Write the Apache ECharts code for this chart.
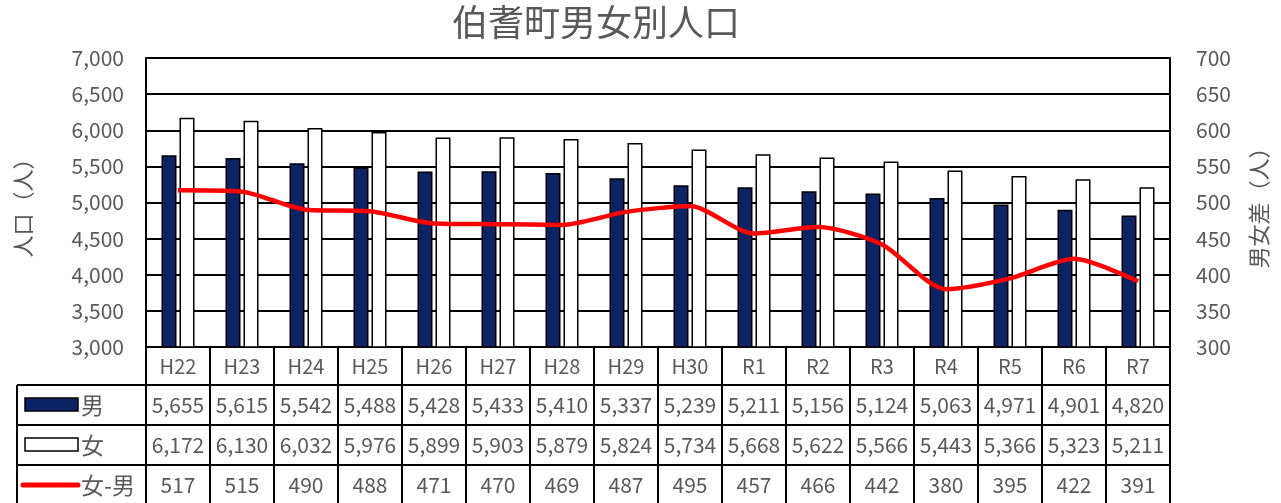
<!DOCTYPE html>
<html><head><meta charset="utf-8">
<script src="https://cdn.jsdelivr.net/npm/echarts@6/dist/echarts.min.js"></script>
<style>html,body{margin:0;padding:0;background:#fff}#c{width:1281px;height:503px}</style>
</head><body><div id="c"></div>
<script>
const categories = ['H22','H23','H24','H25','H26','H27','H28','H29','H30','R1','R2','R3','R4','R5','R6','R7'];
const male = [5655,5615,5542,5488,5428,5433,5410,5337,5239,5211,5156,5124,5063,4971,4901,4820];
const female = [6172,6130,6032,5976,5899,5903,5879,5824,5734,5668,5622,5566,5443,5366,5323,5211];
const diff = [517,515,490,488,471,470,469,487,495,457,466,442,380,395,422,391];
const seriesNames = ['男','女','女-男'];

const FONT = '"Noto Sans CJK JP", "Noto Sans", sans-serif';
const GRAY = '#595959';
const NAVY = '#0c2466';
const chart = echarts.init(document.getElementById('c'));
const fmt = v => v.toLocaleString('en-US');

chart.setOption({
  animation: false,
  title: { text: '伯耆町男女別人口', left: 447, top: -1,
    textStyle: { fontFamily: FONT, fontSize: 36, fontWeight: 'normal', color: GRAY } },
  grid: { left: 146, right: 111, top: 58, bottom: 156 },
  xAxis: { type: 'category', data: categories,
    axisLine: { show: true, lineStyle: { color: '#000', width: 2 } },
    axisTick: { show: false },
    axisLabel: { color: GRAY, fontFamily: FONT, fontSize: 20, margin: 9 } },
  yAxis: [
    { type: 'value', min: 3000, max: 7000, interval: 500, name: '人口（人）',
      nameLocation: 'middle', nameGap: 112, nameRotate: 90,
      nameTextStyle: { color: GRAY, fontFamily: FONT, fontSize: 22 },
      axisLine: { show: true, lineStyle: { color: '#000', width: 2 } },
      axisTick: { show: false },
      axisLabel: { color: GRAY, fontFamily: FONT, fontSize: 21, margin: 22, formatter: v => fmt(v) },
      splitLine: { lineStyle: { color: '#000', width: 2 } } },
    { type: 'value', min: 300, max: 700, interval: 50, name: '男女差（人）',
      nameLocation: 'middle', nameGap: 78, nameRotate: 90,
      nameTextStyle: { color: GRAY, fontFamily: FONT, fontSize: 22 },
      axisLine: { show: true, lineStyle: { color: '#000', width: 2 } },
      axisTick: { show: false },
      axisLabel: { color: GRAY, fontFamily: FONT, fontSize: 21, margin: 26 },
      splitLine: { show: false } }
  ],
  series: [
    { name: seriesNames[0], type: 'bar', data: male, barWidth: 15, barGap: '20%',
      itemStyle: { color: NAVY, borderColor: '#000', borderWidth: 1.5 } },
    { name: seriesNames[1], type: 'bar', data: female, barWidth: 15,
      itemStyle: { color: '#fff', borderColor: '#000', borderWidth: 1.5 } },
    { name: seriesNames[2], type: 'line', yAxisIndex: 1, data: diff, smooth: 0.25,
      symbol: 'none', lineStyle: { color: '#ff0000', width: 4.5 } }
  ]
});

// Data table built from the axis scale
const centers = categories.map((c, i) => chart.convertToPixel({ xAxisIndex: 0 }, i));
const band = centers[1] - centers[0];
const x0 = centers[0] - band / 2;
const x1 = centers[centers.length - 1] + band / 2;
const yTop = chart.convertToPixel({ yAxisIndex: 0 }, 3000);
const rowH = 40;
const rowsY = [yTop + 38, yTop + 78, yTop + 118, yTop + 158];
const tableLeft = 17;
const els = [];
const line = (xa, ya, xb, yb) => els.push({ type: 'line', shape: { x1: xa, y1: ya, x2: xb, y2: yb },
  style: { stroke: '#000', lineWidth: 2 }, silent: true });
for (let k = 0; k <= categories.length; k++) {
  const x = x0 + band * k;
  line(x, yTop, x, 520);
}
line(tableLeft, rowsY[0], x1, rowsY[0]);
line(tableLeft, rowsY[1], x1, rowsY[1]);
line(tableLeft, rowsY[2], x1, rowsY[2]);
line(tableLeft, rowsY[0], tableLeft, 520);
const rows = [male.map(fmt), female.map(fmt), diff.map(String)];
rows.forEach((vals, r) => {
  const cy = rowsY[r] + rowH / 2;
  vals.forEach((v, i) => els.push({ type: 'text', x: centers[i], y: cy,
    style: { text: v, fill: GRAY, font: '21px ' + FONT, textAlign: 'center', textVerticalAlign: 'middle' } }));
  if (r === 0) els.push({ type: 'rect', shape: { x: 25, y: cy - 7, width: 53, height: 13 }, style: { fill: NAVY, stroke: '#000', lineWidth: 1.5 } });
  if (r === 1) els.push({ type: 'rect', shape: { x: 25, y: cy - 7, width: 53, height: 13 }, style: { fill: '#fff', stroke: '#000', lineWidth: 1.5 } });
  if (r === 2) els.push({ type: 'line', shape: { x1: 23, y1: cy, x2: 78, y2: cy }, style: { stroke: '#ff0000', lineWidth: 5, lineCap: 'round' } });
  els.push({ type: 'text', x: 81, y: cy, style: { text: seriesNames[r], fill: GRAY, font: '23px ' + FONT, textVerticalAlign: 'middle' } });
});
line(x0, 58, x1, 58);
line(x1, 58, x1, yTop);
chart.setOption({ graphic: { elements: els } });
</script></body></html>
